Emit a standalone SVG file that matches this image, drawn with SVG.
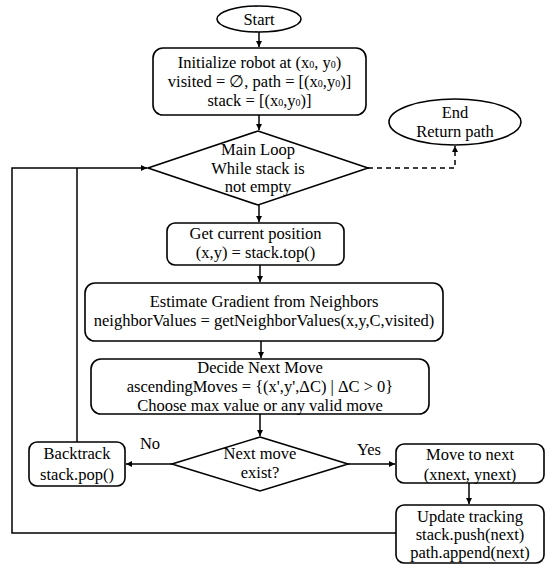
<svg xmlns="http://www.w3.org/2000/svg" width="550" height="570" viewBox="0 0 550 570">
<defs>
<marker id="ah" viewBox="0 0 8 8" refX="8" refY="4" markerWidth="6" markerHeight="6" markerUnits="userSpaceOnUse" orient="auto">
<path d="M0,0 L8,4 L0,8 z" fill="#000"/>
</marker>
</defs>
<style>
.n{fill:#fff;stroke:#000;stroke-width:1.6}
.t{font-family:"Liberation Serif","Times New Roman",serif;font-size:16.5px;fill:#000;text-anchor:middle}
.s{font-size:10px}
.c{fill:none;stroke:#000;stroke-width:1.5}
.d{fill:none;stroke:#000;stroke-width:1.5;stroke-dasharray:5,4}
</style>
<rect width="550" height="570" fill="#fff"/>
<g id="connectors">
<path class="c" d="M259,32 V47" marker-end="url(#ah)"/>
<path class="c" d="M259,115 V130" marker-end="url(#ah)"/>
<path class="c" d="M259,205 V222" marker-end="url(#ah)"/>
<path class="c" d="M260,265 V282" marker-end="url(#ah)"/>
<path class="c" d="M261,341 V358" marker-end="url(#ah)"/>
<path class="c" d="M260,414 V436" marker-end="url(#ah)"/>
<path class="c" d="M172,464 H126" marker-end="url(#ah)"/>
<path class="c" d="M348,464 H395" marker-end="url(#ah)"/>
<path class="c" d="M469,483 V504" marker-end="url(#ah)"/>
<path class="c" d="M396,533 H12 V168 H147" marker-end="url(#ah)"/>
<path class="c" d="M77,442 V168"/>
<path class="d" d="M368,168 H455 V146" marker-end="url(#ah)"/>
<text class="t" x="150" y="449">No</text>
<text class="t" x="369" y="455">Yes</text>
</g>
<g id="start">
<ellipse class="n" cx="259" cy="19" rx="42" ry="13"/>
<text class="t" x="259" y="25">Start</text>
</g>
<g id="init">
<rect class="n" x="153" y="48" width="213" height="67" rx="10"/>
<text class="t" x="259.5" y="68">Initialize robot at (x<tspan class="s">0</tspan>, y<tspan class="s">0</tspan>)</text>
<text class="t" x="259.5" y="87">visited = ∅, path = [(x<tspan class="s">0</tspan>,y<tspan class="s">0</tspan>)]</text>
<text class="t" x="259.5" y="106">stack = [(x<tspan class="s">0</tspan>,y<tspan class="s">0</tspan>)]</text>
</g>
<g id="mainloop">
<polygon class="n" points="258,131 368,168 258,205 148,168"/>
<text class="t" x="258" y="155">Main Loop</text>
<text class="t" x="258" y="174">While stack is</text>
<text class="t" x="258" y="192">not empty</text>
</g>
<g id="end">
<ellipse class="n" cx="455" cy="122" rx="66" ry="23"/>
<text class="t" x="455" y="118">End</text>
<text class="t" x="455" y="137">Return path</text>
</g>
<g id="getpos">
<rect class="n" x="167" y="223" width="177" height="42" rx="8"/>
<text class="t" x="255.5" y="239">Get current position</text>
<text class="t" x="255.5" y="258">(x,y) = stack.top()</text>
</g>
<g id="estimate">
<rect class="n" x="85" y="283" width="358" height="58" rx="10"/>
<text class="t" x="264" y="307">Estimate Gradient from Neighbors</text>
<text class="t" x="264" y="326">neighborValues = getNeighborValues(x,y,C,visited)</text>
</g>
<g id="decide">
<rect class="n" x="91" y="359" width="338" height="55" rx="10"/>
<text class="t" x="260" y="373">Decide Next Move</text>
<text class="t" x="260" y="392">ascendingMoves = {(x',y',ΔC) | ΔC &gt; 0}</text>
<text class="t" x="260" y="411">Choose max value or any valid move</text>
</g>
<g id="nextmove">
<polygon class="n" points="260,437 348,464 260,491 172,464"/>
<text class="t" x="260" y="459">Next move</text>
<text class="t" x="260" y="478">exist?</text>
</g>
<g id="backtrack">
<rect class="n" x="29" y="442" width="96" height="44" rx="8"/>
<text class="t" x="77" y="459">Backtrack</text>
<text class="t" x="77" y="480">stack.pop()</text>
</g>
<g id="moveto">
<rect class="n" x="396" y="444" width="148" height="39" rx="8"/>
<text class="t" x="470" y="460">Move to next</text>
<text class="t" x="470" y="480">(xnext, ynext)</text>
</g>
<g id="update">
<rect class="n" x="396" y="505" width="148" height="58" rx="8"/>
<text class="t" x="470" y="522">Update tracking</text>
<text class="t" x="470" y="540">stack.push(next)</text>
<text class="t" x="470" y="558">path.append(next)</text>
</g>
</svg>
